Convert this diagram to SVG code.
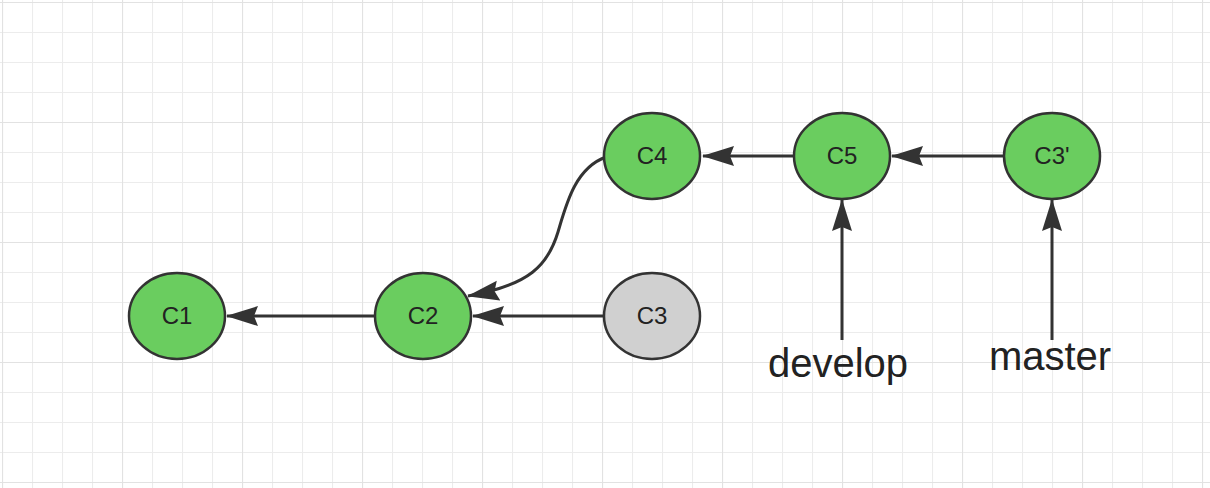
<svg xmlns="http://www.w3.org/2000/svg" width="1210" height="488" viewBox="0 0 1210 488">
<defs>
<pattern id="minor" x="2" y="2" width="30" height="30" patternUnits="userSpaceOnUse">
<path d="M0 0H30M0 0V30" fill="none" stroke="#ececec" stroke-width="2.2"/>
</pattern>
<pattern id="major" x="2" y="2" width="120" height="120" patternUnits="userSpaceOnUse">
<path d="M0 0H120M0 0V120" fill="none" stroke="#e2e2e2" stroke-width="2.2"/>
</pattern>
<marker id="ah" viewBox="0 0 32 22" refX="31" refY="11" markerWidth="32" markerHeight="22" markerUnits="userSpaceOnUse" orient="auto">
<path d="M0 1 L32 11 L0 21 L4 11 Z" fill="#333"/>
</marker>
<style>
.node ellipse{stroke:#333;stroke-width:2.5}
.g{fill:#6acd5f}
.gray{fill:#d0d0d0}
.node text{font-family:"Liberation Sans",Arial,sans-serif;font-size:24px;fill:#222;text-anchor:middle}
.edge{fill:none;stroke:#333;stroke-width:3;marker-end:url(#ah)}
.lbl{font-family:"Liberation Sans",Arial,sans-serif;font-size:40px;fill:#222;text-anchor:middle}
</style>
</defs>
<rect width="1210" height="488" fill="#fff"/>
<rect width="1210" height="488" fill="url(#minor)"/>
<rect width="1210" height="488" fill="url(#major)"/>
<g id="connectors">
<path class="edge" d="M376 316H227"/>
<path class="edge" d="M605 316H473"/>
<path class="edge" d="M606 157C575 168 566 205 558 232C548 265 530 285 468 296"/>
<path class="edge" d="M795 156H703"/>
<path class="edge" d="M1004 156H892"/>
<path class="edge" d="M842 340V200"/>
<path class="edge" d="M1052 340V200"/>
</g>
<g id="C1" class="node"><ellipse class="g" cx="177" cy="316" rx="48" ry="43"/><text x="177" y="324">C1</text></g>
<g id="C2" class="node"><ellipse class="g" cx="423" cy="316" rx="48" ry="43"/><text x="423" y="324">C2</text></g>
<g id="C3" class="node"><ellipse class="gray" cx="652" cy="316" rx="48" ry="43"/><text x="652" y="324">C3</text></g>
<g id="C4" class="node"><ellipse class="g" cx="652" cy="156" rx="48" ry="43"/><text x="652" y="164">C4</text></g>
<g id="C5" class="node"><ellipse class="g" cx="842" cy="156" rx="48" ry="43"/><text x="842" y="164">C5</text></g>
<g id="C3p" class="node"><ellipse class="g" cx="1052" cy="156" rx="48" ry="43"/><text x="1052" y="164">C3'</text></g>
<g id="develop"><text class="lbl" x="838" y="377">develop</text></g>
<g id="master"><text class="lbl" x="1050" y="370">master</text></g>
</svg>
